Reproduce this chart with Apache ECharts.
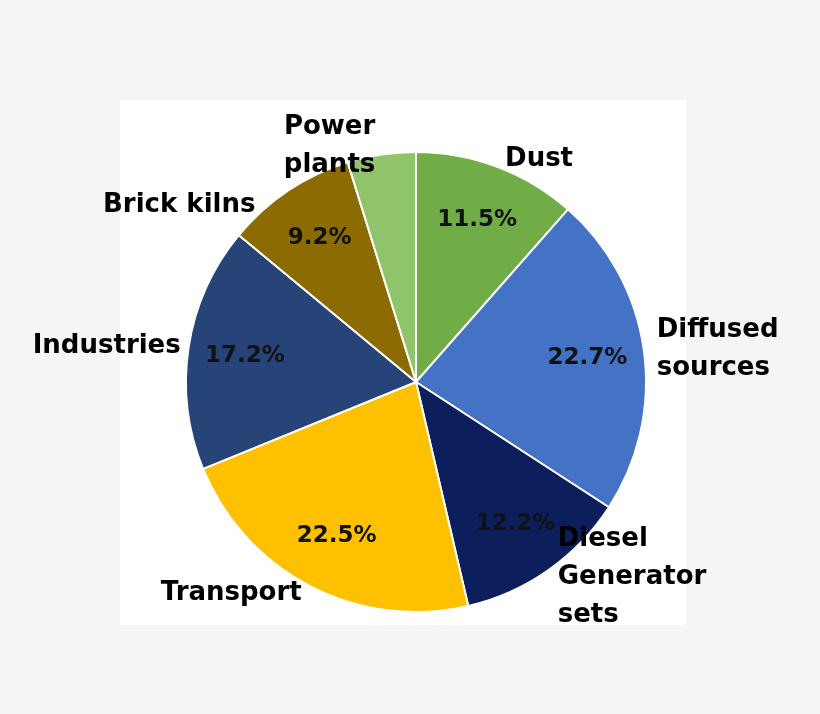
<!DOCTYPE html>
<html><head><meta charset="utf-8">
<script src="https://cdn.jsdelivr.net/npm/echarts@6/dist/echarts.min.js"></script>
<style>html,body{margin:0;background:#f5f5f5}#c{width:820px;height:714px}</style>
</head><body><div id="c"></div>
<script>
const categories = ["Dust","Diffused\nsources","Diesel\nGenerator\nsets","Transport","Industries","Brick kilns","Power\nplants"];
const values = [11.5,22.7,12.2,22.5,17.2,9.2,4.8];
const colors = ["#70ad47","#4472c4","#0c1f5c","#ffc000","#264478","#8c6b00","#8fc46a"];
const chart = echarts.init(document.getElementById('c'));
const data = categories.map((n,i)=>({name:n,value:values[i],itemStyle:{color:colors[i]}}));
const font = 'DejaVu Sans';
chart.setOption({
  backgroundColor:'#f5f5f5',
  graphic:[{type:'rect',z:-1,shape:{x:120,y:100,width:566,height:525},style:{fill:'#ffffff'}}],
  series:[
    {type:'pie',center:[416,382],radius:[0,230],startAngle:90,clockwise:true,silent:true,
     data:data,itemStyle:{borderColor:'#ffffff',borderWidth:2},
     label:{show:false},labelLine:{show:false}},
    {type:'pie',center:[416,382],radius:[110,230],startAngle:90,clockwise:true,silent:true,z:3,
     data:data.map((d,i)=>({name:d.name,value:d.value,itemStyle:{color:'rgba(0,0,0,0)'},
       label: i===6 ? {position:'outside',distance:4} : undefined})),
     label:{position:'inside',formatter:p=>p.value.toFixed(1)+'%',color:'#111',fontSize:23,fontWeight:'bold',fontFamily:font},
     labelLine:{show:false,length:0,length2:0}},
    {type:'pie',center:[416,382],radius:[0,230],startAngle:90,clockwise:true,silent:true,z:3,
     data:data.map((d,i)=>({name:d.name,value:d.value,itemStyle:{color:'rgba(0,0,0,0)'},
       label: i===6 ? {distance:60} : (i===2 ? {distance:22} : undefined)})),
     label:{position:'outside',distance:30,formatter:'{b}',color:'#000',fontSize:26,fontWeight:'bold',fontFamily:font,lineHeight:38,align:'left'},
     labelLine:{show:false,length:8,length2:0}}
  ]
});
</script></body></html>
